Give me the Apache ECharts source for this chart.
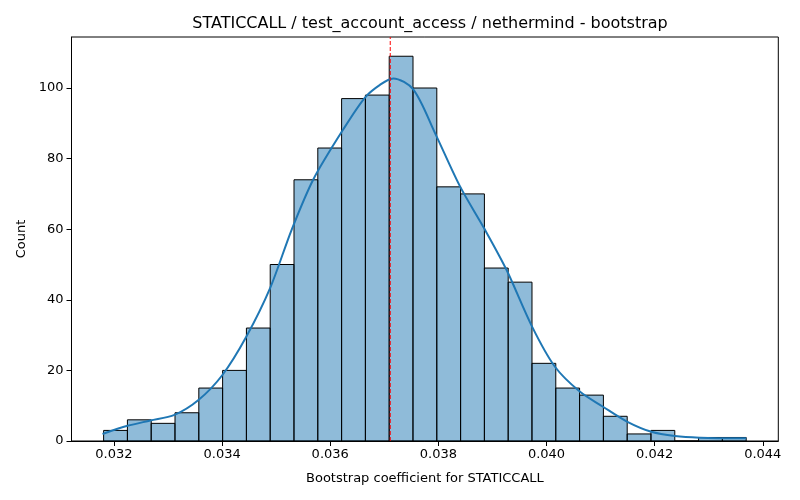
<!DOCTYPE html>
<html>
<head>
<meta charset="utf-8">
<script src="https://cdn.jsdelivr.net/npm/echarts@6/dist/echarts.min.js"></script>
<style>
html,body{margin:0;padding:0;background:#fff;}
#chart{width:800px;height:500px;}
</style>
</head>
<body>
<div id="chart"></div>
<script>
// bins of the bootstrap histogram
var binStart = 0.031809;
var binWidth = 0.00044015;
var binCounts = [3, 6, 5, 8, 15, 20, 32, 50, 74, 83, 97, 98, 109, 100, 72, 70, 49, 45, 22, 15, 13, 7, 2, 3, 0, 1, 1];

// kde curve (count units)
var kdeX = [0.031789, 0.032251, 0.032671, 0.033120, 0.033563, 0.034006, 0.034450, 0.034888, 0.035288, 0.035687, 0.036242, 0.036643, 0.036920, 0.037165, 0.037535, 0.037936, 0.038398, 0.038860, 0.039260, 0.039733, 0.040153, 0.040615, 0.041045, 0.041488, 0.041939, 0.042375, 0.042831, 0.043694];
var kdeY = [2.0, 4.3, 5.8, 7.4, 11.6, 18.7, 29.6, 43.3, 59.9, 74.1, 88.3, 97.3, 100.9, 102.7, 99.6, 87.3, 72.2, 59.9, 48.5, 32.4, 21.1, 14.0, 9.7, 5.5, 2.6, 1.4, 0.95, 0.76];

// mean marker
var meanX = 0.03711;

var xTicks = [0.032, 0.034, 0.036, 0.038, 0.040, 0.042, 0.044];
var yTicks = [0, 20, 40, 60, 80, 100];
var yMax = 114.45;

var titleText = 'STATICCALL / test_account_access / nethermind - bootstrap';
var xName = 'Bootstrap coefficient for STATICCALL';
var yName = 'Count';

var histData = [];
for (var i = 0; i < binCounts.length; i++) {
	histData.push([binStart + i * binWidth, binStart + (i + 1) * binWidth, binCounts[i]]);
}
var kdeData = [];
for (var i = 0; i < kdeX.length; i++) {
	kdeData.push([kdeX[i], kdeY[i]]);
}

var font = 'DejaVu Sans';
var myChart = echarts.init(document.getElementById('chart'));
var option = {
	animation: false,
	backgroundColor: '#fff',
	textStyle: {fontFamily: font},
	title: {
		text: titleText, left: 425, top: 11, textAlign: 'center',
		textStyle: {fontFamily: font, fontSize: 16, fontWeight: 'normal', color: '#000'}
	},
	grid: {left: 71.5, right: 21.7, top: 37, bottom: 59, show: true, borderColor: '#000', borderWidth: 1, backgroundColor: 'transparent'},
	xAxis: {
		type: 'value', min: 0.031215, max: 0.044287,
		name: xName, nameLocation: 'middle', nameGap: 31,
		nameTextStyle: {fontFamily: font, fontSize: 13, color: '#000'},
		axisLine: {show: true, onZero: false, lineStyle: {color: '#000', width: 1}},
		axisTick: {show: true, length: 5, lineStyle: {color: '#000'}, customValues: xTicks},
		axisLabel: {
			customValues: xTicks, margin: 7, color: '#000', fontFamily: font, fontSize: 13,
			formatter: function (v) { return v.toFixed(3); }
		},
		splitLine: {show: false}
	},
	yAxis: {
		type: 'value', min: 0, max: yMax,
		name: yName, nameLocation: 'middle', nameGap: 42,
		nameTextStyle: {fontFamily: font, fontSize: 13, color: '#000'},
		axisLine: {show: true, lineStyle: {color: '#000', width: 1}},
		axisTick: {show: true, length: 5, lineStyle: {color: '#000'}, customValues: yTicks},
		axisLabel: {customValues: yTicks, margin: 8, color: '#000', fontFamily: font, fontSize: 13},
		splitLine: {show: false}
	},
	series: [
		{
			type: 'custom',
			data: histData,
			encode: {x: [0, 1], y: 2},
			renderItem: function (params, api) {
				var p0 = api.coord([api.value(0), api.value(2)]);
				var p1 = api.coord([api.value(1), 0]);
				return {
					type: 'rect',
					shape: {x: p0[0], y: p0[1], width: p1[0] - p0[0], height: p1[1] - p0[1]},
					style: {fill: 'rgba(31,119,180,0.5)', stroke: '#000', lineWidth: 1}
				};
			},
			z: 2
		},
		{
			type: 'line',
			data: kdeData,
			smooth: 0.3,
			showSymbol: false,
			lineStyle: {color: '#1f77b4', width: 2},
			z: 3
		},
		{
			//均值竖线
			type: 'line',
			data: [[meanX, 0], [meanX, yMax]],
			showSymbol: false,
			lineStyle: {color: '#ff0000', type: [4, 2], width: 1},
			z: 4
		}
	]
};
myChart.setOption(option);
</script>
</body>
</html>
